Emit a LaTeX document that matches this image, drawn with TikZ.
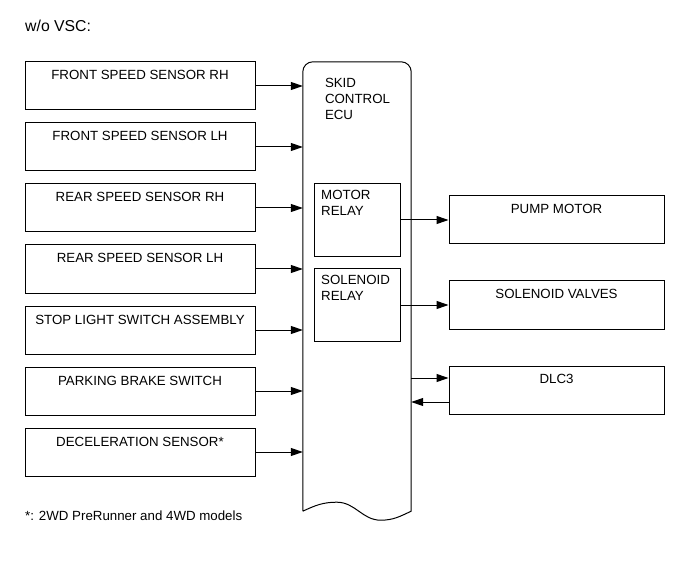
\documentclass[tikz,border=0pt]{standalone}
\usepackage{fontspec}
\setmainfont{Liberation Sans}
\usetikzlibrary{positioning, arrows.meta}

\tikzset{
  unit/.style={draw, line width=1pt, minimum width=230pt, minimum height=48pt, inner sep=0pt},
  sensor/.style={unit, label={[anchor=base, yshift=-18.5pt]north:#1}},
  output/.style={unit, minimum width=215pt, label={[anchor=base, yshift=-18pt]north:#1}},
  relay/.style={draw, line width=1pt, minimum width=86pt, minimum height=73pt, inner sep=0pt,
    label={[anchor=north west, align=left, inner sep=0pt, xshift=7.5pt, yshift=-7pt]north west:#1}},
  arr/.style={line width=1pt, -{Triangle[length=12pt, width=8pt]}}
}

\begin{document}
\begin{tikzpicture}[x=1pt, y=-1pt, font=\fontsize{13.3}{16}\selectfont]
  \useasboundingbox (0,0) rectangle (691,564);

  \node[anchor=base west, inner sep=0pt, font=\fontsize{15.8}{18}\selectfont] (title) at (25,31.5) {w/o VSC:};

  % input side
  \node[sensor={FRONT SPEED SENSOR RH}] (fsrh) at (140,86) {};
  \node[sensor={FRONT SPEED SENSOR LH}, below=12pt of fsrh] (fslh) {};
  \node[sensor={REAR SPEED SENSOR RH}, below=12pt of fslh] (rsrh) {};
  \node[sensor={REAR SPEED SENSOR LH}, below=12pt of rsrh] (rslh) {};
  \node[sensor={STOP LIGHT SWITCH ASSEMBLY}, below=12pt of rslh] (stop) {};
  \node[sensor={PARKING BRAKE SWITCH}, below=12pt of stop] (pkb) {};
  \node[sensor={DECELERATION SENSOR*}, below=12pt of pkb] (decel) {};

  % ECU
  \node[minimum width=108pt, minimum height=449pt, inner sep=0pt] (ecu) at (357,286.5) {};
  \draw[line width=1pt] (ecu.south west) to[out=25, in=180] ++(34,-9)
    to[out=0, in=180] ++(44,18) to[out=0, in=205] (ecu.south east)
    [rounded corners=10pt] -- (ecu.north east) -- (ecu.north west) -- (ecu.south west);
  \node[anchor=north west, align=left, inner sep=0pt,
        below right=16pt and 22pt of ecu.north west] (ecutxt) {SKID\\CONTROL\\ECU};

  % output side
  \node[output={PUMP MOTOR}] (pump) at (556.5,220) {};
  \node[output={SOLENOID VALVES}, below=36pt of pump] (solv) {};
  \node[output={DLC3}, below=36pt of solv] (dlc) {};

  \node[relay={MOTOR\\RELAY}] (mrelay) at (ecu |- pump) {};
  \node[relay={SOLENOID\\RELAY}] (srelay) at (ecu |- solv) {};

  % connectors
  \foreach \s in {fsrh, fslh, rsrh, rslh, stop, pkb, decel}
    \draw[arr] (\s.east) -- (\s.east -| ecu.west);
  \draw[arr] (mrelay.east) -- (pump.west);
  \draw[arr] (srelay.east) -- (solv.west);
  \draw[arr] ([yshift=12pt]dlc.west -| ecu.east) -- ([yshift=12pt]dlc.west);
  \draw[arr] ([yshift=-12pt]dlc.west) -- ([yshift=-12pt]dlc.west -| ecu.east);

  \node[anchor=base west, inner sep=0pt] (note) at (25,520.7) {*: 2WD PreRunner and 4WD models};
\end{tikzpicture}
\end{document}
